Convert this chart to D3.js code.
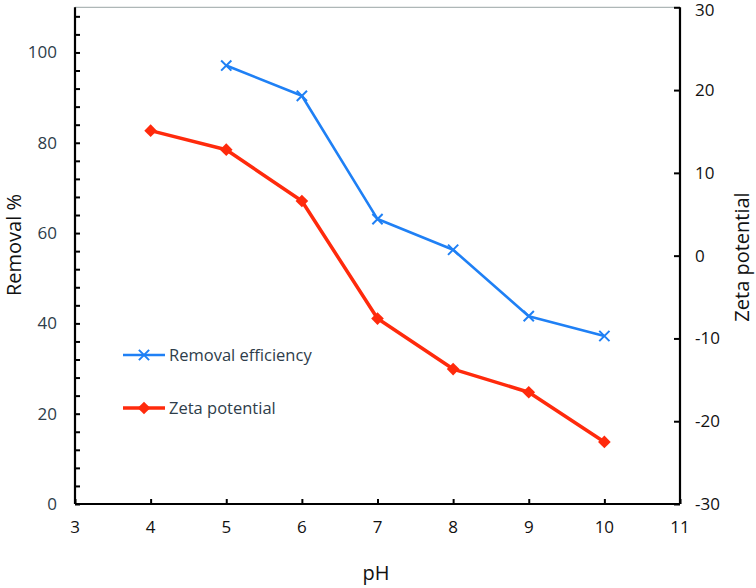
<!DOCTYPE html>
<html><head><meta charset="utf-8">
<script src="https://cdn.jsdelivr.net/npm/d3@7"></script>
<style>body{margin:0;background:#fff}svg{display:block}text{font-family:"Open Sans",sans-serif}</style>
</head><body>
<svg id="c" width="756" height="588"></svg>
<script>
const removalPH = [5, 6, 7, 8, 9, 10];
const removalValues = [97.1, 90.4, 63.1, 56.3, 41.6, 37.2];
const zetaPH = [4, 5, 6, 7, 8, 9, 10];
const zetaValues = [15.1, 12.8, 6.6, -7.6, -13.7, -16.5, -22.5];
const xTicks = [3, 4, 5, 6, 7, 8, 9, 10, 11];
const leftTicks = [0, 20, 40, 60, 80, 100];
const leftMinor = d3.range(0, 111, 4);
const rightTicks = [-30, -20, -10, 0, 10, 20, 30];

const svg = d3.select("#c");
const L = 75, R = 680, T = 7.3, B = 504;
const x = d3.scaleLinear().domain([3, 11]).range([L, R]);
const yL = d3.scaleLinear().domain([0, 110]).range([B, T]);
const yR = d3.scaleLinear().domain([-30, 30]).range([B, T]);
const labelColor = "#2e3d4a";
const fs = 17;

// top border
svg.append("line").attr("x1", L).attr("x2", R).attr("y1", T).attr("y2", T)
  .attr("stroke", "#9aa5a5").attr("stroke-width", 1);

// left axis
const gL = svg.append("g").attr("transform", `translate(${L},0)`);
gL.call(d3.axisRight(yL).tickValues(leftMinor).tickSize(5).tickFormat(""));
gL.select(".domain").attr("stroke-width", 2.2).attr("d", `M0,${T}V${B}`);
gL.selectAll(".tick line").attr("stroke-width", 2);
leftTicks.forEach(v => gL.append("text").attr("x", -18).attr("y", yL(v)).attr("dy", "0.35em")
  .attr("text-anchor", "end").attr("font-size", fs).attr("fill", labelColor).text(v));

// right axis
const gR = svg.append("g").attr("transform", `translate(${R},0)`);
gR.call(d3.axisLeft(yR).tickValues(rightTicks).tickSize(6).tickFormat(""));
gR.select(".domain").attr("stroke-width", 2.2).attr("d", `M0,${T}V${B}`);
gR.selectAll(".tick line").attr("stroke-width", 2);
rightTicks.forEach(v => gR.append("text").attr("x", 15).attr("y", Math.max(yR(v), 10)).attr("dy", "0.35em")
  .attr("text-anchor", "start").attr("font-size", fs).attr("fill", "#111").text(v));

// bottom axis
const gB = svg.append("g").attr("transform", `translate(0,${B})`);
gB.call(d3.axisTop(x).tickValues(xTicks).tickSize(5).tickFormat(""));
gB.select(".domain").attr("stroke-width", 2.2).attr("d", `M${L},0H${R}`);
gB.selectAll(".tick line").attr("stroke-width", 2);
xTicks.forEach(v => gB.append("text").attr("x", x(v)).attr("y", 29).attr("text-anchor", "middle")
  .attr("font-size", fs).attr("fill", "#111").text(v));

// axis titles
svg.append("text").attr("transform", "translate(21,245) rotate(-90)").attr("text-anchor", "middle")
  .attr("font-size", 20).attr("fill", "#111").text("Removal %");
svg.append("text").attr("transform", "translate(749,257) rotate(-90)").attr("text-anchor", "middle")
  .attr("font-size", 20).attr("fill", "#111").text("Zeta potential");
svg.append("text").attr("x", 376).attr("y", 580).attr("text-anchor", "middle")
  .attr("font-size", 20).attr("fill", "#111").text("pH");

const blue = "#1f80f5", red = "#ff2a0c";
// removal line
const remData = removalPH.map((p, i) => [p, removalValues[i]]);
svg.append("path").datum(remData).attr("fill", "none").attr("stroke", blue).attr("stroke-width", 2.6)
  .attr("stroke-linejoin", "round")
  .attr("d", d3.line().x(d => x(d[0])).y(d => yL(d[1])));
const crossSym = d3.symbol().type(d3.symbolX).size(70);
svg.selectAll(".rm").data(remData).join("path").attr("class", "rm")
  .attr("transform", d => `translate(${x(d[0])},${yL(d[1])})`)
  .attr("d", crossSym()).attr("fill", "none").attr("stroke", blue).attr("stroke-width", 2);

// zeta line
const zData = zetaPH.map((p, i) => [p, zetaValues[i]]);
svg.append("path").datum(zData).attr("fill", "none").attr("stroke", red).attr("stroke-width", 3.5)
  .attr("stroke-linejoin", "round")
  .attr("d", d3.line().x(d => x(d[0])).y(d => yR(d[1])));
const diamond = d3.symbol().type(d3.symbolSquare).size(80);
svg.selectAll(".zm").data(zData).join("path").attr("class", "zm")
  .attr("transform", d => `translate(${x(d[0])},${yR(d[1])}) rotate(45)`)
  .attr("d", diamond()).attr("fill", red);

// legend
const lg = svg.append("g");
lg.append("line").attr("x1", 123).attr("x2", 165).attr("y1", 355).attr("y2", 355).attr("stroke", blue).attr("stroke-width", 2.6);
lg.append("path").attr("transform", "translate(144,355)").attr("d", crossSym()).attr("fill", "none").attr("stroke", blue).attr("stroke-width", 2);
lg.append("text").attr("x", 169).attr("y", 355).attr("dy", "0.35em").attr("font-size", 16.5).attr("fill", labelColor).text("Removal efficiency");
lg.append("line").attr("x1", 123).attr("x2", 165).attr("y1", 408).attr("y2", 408).attr("stroke", red).attr("stroke-width", 3.5);
lg.append("path").attr("transform", "translate(144,408) rotate(45)").attr("d", diamond()).attr("fill", red);
lg.append("text").attr("x", 169).attr("y", 408).attr("dy", "0.35em").attr("font-size", 16.5).attr("fill", labelColor).text("Zeta potential");
</script>
</body></html>
